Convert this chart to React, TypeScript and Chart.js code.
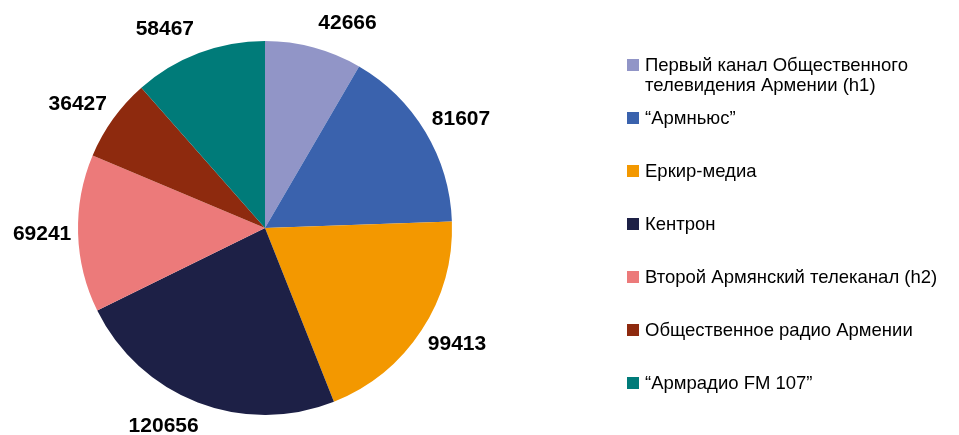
import React, { useEffect, useRef } from "react";
import { Chart, registerables } from "chart.js";

Chart.register(...registerables);

const categories = [
  "Первый канал Общественного телевидения Армении (h1)",
  "“Армньюс”",
  "Еркир-медиа",
  "Кентрон",
  "Второй Армянский телеканал (h2)",
  "Общественное радио Армении",
  "“Армрадио FM 107”",
];
const values = [42666, 81607, 99413, 120656, 69241, 36427, 58467];
const colors = ["#9195C7", "#3A62AD", "#F39800", "#1D2046", "#EC7A7A", "#8E2A0E", "#007B79"];

const FONT = '"Liberation Sans", Arial, sans-serif';

function wrap(ctx: CanvasRenderingContext2D, text: string, maxW: number): string[] {
  const words = text.split(" ");
  const lines: string[] = [];
  let cur = "";
  for (const w of words) {
    const t = cur ? cur + " " + w : w;
    if (ctx.measureText(t).width > maxW && cur) {
      lines.push(cur);
      cur = w;
    } else cur = t;
  }
  if (cur) lines.push(cur);
  return lines;
}

const labelPlugin = {
  id: "outsideLabels",
  afterDraw(chart: any) {
    const ctx: CanvasRenderingContext2D = chart.ctx;
    const meta = chart.getDatasetMeta(0);
    ctx.save();
    ctx.font = `bold 21px ${FONT}`;
    ctx.fillStyle = "#000";
    ctx.textAlign = "center";
    ctx.textBaseline = "middle";
    meta.data.forEach((arc: any, i: number) => {
      const p = arc.getProps(["x", "y", "startAngle", "endAngle", "outerRadius"], true);
      const mid = (p.startAngle + p.endAngle) / 2;
      const ux = Math.cos(mid);
      const uy = Math.sin(mid);
      const x = p.x + (p.outerRadius + 36) * ux + Math.sign(ux) * 33 * (1 - Math.abs(ux));
      const y = p.y + (p.outerRadius + 25) * uy;
      ctx.fillText(String(values[i]), x, y);
    });
    ctx.restore();

    // legend
    ctx.save();
    ctx.font = `18.5px ${FONT}`;
    ctx.textAlign = "left";
    ctx.textBaseline = "alphabetic";
    categories.forEach((c, i) => {
      const top = 59 + 53 * i;
      ctx.fillStyle = colors[i];
      ctx.fillRect(627, top, 12, 12);
      ctx.fillStyle = "#000";
      const lines = wrap(ctx, c, 295);
      lines.forEach((ln, j) => {
        ctx.fillText(ln, 645, top + 12 + j * 20);
      });
    });
    ctx.restore();
  },
};

export default function App() {
  const ref = useRef<HTMLCanvasElement | null>(null);
  useEffect(() => {
    if (!ref.current) return;
    const chart = new Chart(ref.current, {
      type: "pie",
      data: {
        labels: categories,
        datasets: [
          {
            data: values,
            backgroundColor: colors,
            borderWidth: 0,
          },
        ],
      },
      options: {
        responsive: false,
        animation: false,
        layout: { padding: { left: 78, right: 507, top: 41, bottom: 20 } },
        plugins: {
          legend: { display: false },
          tooltip: { enabled: false },
        },
      },
      plugins: [labelPlugin],
    });
    return () => chart.destroy();
  }, []);
  return (
    <div style={{ position: "fixed", left: 0, top: 0, width: 959, height: 435, background: "#fff" }}>
      <canvas ref={ref} width={959} height={435} />
    </div>
  );
}
